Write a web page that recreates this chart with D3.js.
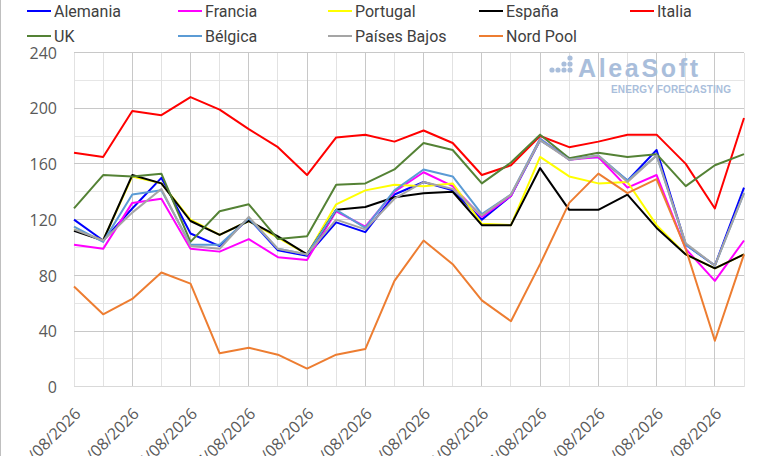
<!DOCTYPE html>
<html>
<head>
<meta charset="utf-8">
<script src="https://cdn.jsdelivr.net/npm/d3@7"></script>
<style>
  body { margin: 0; background: #fff; }
  svg { display: block; }
  .tick text { font-family: "Open Sans", "Noto Sans", sans-serif; font-size: 16px; fill: #595959; }
  .legend text { font-family: "Liberation Sans Narrow", "Roboto", sans-serif; font-size: 16px; fill: #404040; }
</style>
</head>
<body>
<div id="chart"></div>
<script>
// values
const dates = ["01/08/2026","02/08/2026","03/08/2026","04/08/2026","05/08/2026","06/08/2026",
  "07/08/2026","08/08/2026","09/08/2026","10/08/2026","11/08/2026","12/08/2026",
  "13/08/2026","14/08/2026","15/08/2026","16/08/2026","17/08/2026","18/08/2026",
  "19/08/2026","20/08/2026","21/08/2026","22/08/2026","23/08/2026","24/08/2026"]

const alemania   = [120,105,128,150,110,101,121,98,94,118,111,138,147,141,120,137,177,164,165,148,170,102,87,143]
const francia    = [102,99,132,135,99,97,106,93,91,126,115,140,154,144,122,137,178,163,165,143,152,99,76,105]
const portugal   = [113,105,151,146,120,109,119,107,95,131,141,145,144,146,117,116,165,151,146,147,116,95,85,95]
const espana     = [112,105,152,146,119,109,119,108,95,127,129,136,139,140,116,116,157,127,127,138,114,95,85,95]
const italia     = [168,165,198,195,208,199,185,172,152,179,181,176,184,175,152,159,180,172,176,181,181,160,128,193]
const uk         = [128,152,151,153,104,126,131,106,108,145,146,156,175,170,146,161,181,164,168,165,167,144,159,167]
const belgica    = [115,104,138,141,102,102,121,99,95,127,114,141,156,151,124,138,178,163,166,148,166,102,87,139]
const paisesBajos= [113,105,125,142,101,99,122,99,95,120,113,135,147,142,123,138,177,163,166,147,166,103,87,139]
const nordPool   = [72,52,63,82,74,24,28,23,13,23,27,76,105,88,62,47,88,132,153,139,149,99,33,95]

const seriesNames  = ["Alemania","Francia","Portugal","España","Italia","UK","Bélgica","Países Bajos","Nord Pool"]
const seriesValues = [alemania,francia,portugal,espana,italia,uk,belgica,paisesBajos,nordPool]
const seriesColors = ["#0000ff","#ff00ff","#ffff00","#000000","#ff0000","#548235","#5b9bd5","#a5a5a5","#ed7d31"]

const yTicks = [0,40,80,120,160,200,240]
const xLabels = dates.filter((d, i) => i % 2 === 0)

const width = 768, height = 456

const svg = d3.select("#chart").append("svg")
    .attr("width", width)
    .attr("height", height)

svg.append("rect").attr("width", width).attr("height", height).attr("fill", "#fff")
svg.append("line")
    .attr("x1", 0.5).attr("x2", 0.5).attr("y1", 0).attr("y2", height)
    .attr("stroke", "#bfbfbf")

const x = d3.scalePoint()
    .domain(dates)
    .range([74, 744])

const y = d3.scaleLinear()
    .domain([0, 240])
    .range([386.7, 52.5])

// gridlines
const grid = svg.append("g").attr("shape-rendering", "crispEdges")
grid.selectAll(".hmin")
    .data(d3.range(20, 240, 40))
    .enter().append("line")
        .attr("x1", x.range()[0]).attr("x2", x.range()[1])
        .attr("y1", d => y(d)).attr("y2", d => y(d))
        .attr("stroke", "#e6e6e6")
grid.selectAll(".vline")
    .data(dates)
    .enter().append("line")
        .attr("x1", d => x(d)).attr("x2", d => x(d))
        .attr("y1", y(0)).attr("y2", y(240))
        .attr("stroke", (d, i) => i % 2 === 0 && i > 0 ? "#c8c8c8" : "#e2e2e2")
grid.selectAll(".hmaj")
    .data(yTicks)
    .enter().append("line")
        .attr("x1", x.range()[0]).attr("x2", x.range()[1])
        .attr("y1", d => y(d)).attr("y2", d => y(d))
        .attr("stroke", d => d === 0 ? "#d9d9d9" : "#c8c8c8")

// logo watermark
const logo = svg.append("g").attr("fill", "#a9bedb")
const dots = [[552,70],[558,70],[564,70],[570,70],[564,64],[570,64],[570,58]]
logo.selectAll("circle").data(dots).enter().append("circle")
    .attr("cx", d => d[0]).attr("cy", d => d[1]).attr("r", 2.6)
logo.append("text")
    .attr("x", 578).attr("y", 77)
    .attr("font-family", "Liberation Sans, Arial, sans-serif")
    .attr("font-weight", "bold")
    .attr("font-size", 25)
    .attr("textLength", 120)
    .text("AleaSoft")
logo.append("text")
    .attr("x", 611).attr("y", 93)
    .attr("font-family", "Liberation Sans, Arial, sans-serif")
    .attr("font-weight", "bold")
    .attr("font-size", 10)
    .attr("textLength", 120)
    .text("ENERGY FORECASTING")

// axes
svg.append("g")
    .attr("transform", "translate(74,0)")
    .call(d3.axisLeft(y).tickValues(yTicks).tickSize(0).tickPadding(17))
    .call(g => g.select(".domain").remove())
    .selectAll("text").attr("dy", "0.36em")

svg.append("g")
    .attr("transform", `translate(0,${y(0)})`)
    .call(d3.axisBottom(x).tickValues(xLabels).tickSize(0))
    .call(g => g.select(".domain").remove())
    .selectAll("text")
        .attr("text-anchor", "end")
        .attr("dy", 0)
        .attr("transform", "translate(5,26) rotate(-45)")

// lines
const line = d3.line()
    .x((d, i) => x(dates[i]))
    .y(d => y(d))

svg.append("g").selectAll("path")
    .data(seriesValues)
    .enter().append("path")
        .attr("d", line)
        .attr("fill", "none")
        .attr("stroke", (d, i) => seriesColors[i])
        .attr("stroke-width", 2)
        .attr("stroke-linejoin", "round")

// legend
const legendCols = [27, 178, 328, 479, 630]
const legend = svg.append("g").attr("class", "legend")
    .selectAll("g")
    .data(seriesNames)
    .enter().append("g")
        .attr("transform", (d, i) => `translate(${legendCols[i % 5]},${i < 5 ? 11 : 36})`)
legend.append("line")
    .attr("x1", 0).attr("x2", 24)
    .attr("stroke", (d, i) => seriesColors[i])
    .attr("stroke-width", 2)
legend.append("text")
    .attr("x", 27).attr("dy", "0.35em")
    .text(d => d)
</script>
</body>
</html>
